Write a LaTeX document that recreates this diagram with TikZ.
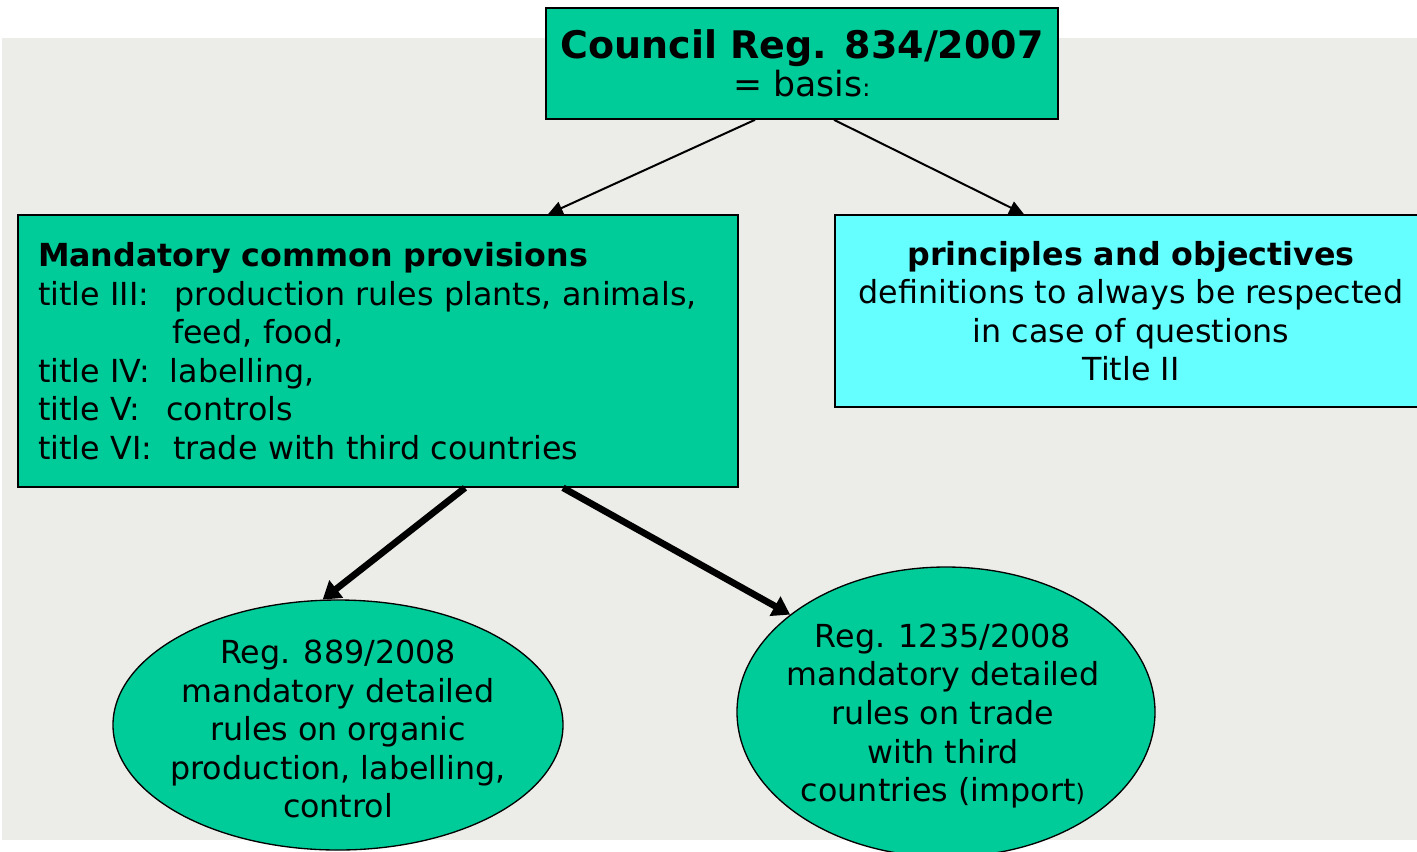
\documentclass[tikz,border=0pt]{standalone}
\usepackage{fontspec}
\setmainfont{DejaVu Sans}
\usetikzlibrary{arrows.meta,shapes.geometric}
\definecolor{regGreen}{RGB}{0,204,153}
\definecolor{regCyan}{RGB}{102,255,255}
\definecolor{slideGrey}{RGB}{236,236,232}
\begin{document}
\begin{tikzpicture}[x=0.75pt,y=-0.75pt,
 every node/.style={font=\fontsize{23.8}{28.9}\selectfont},
 box/.style={draw,line width=1.2pt,inner sep=0pt},
 oval/.style={ellipse,draw,line width=1pt,fill=regGreen,inner sep=0pt},
 link/.style={line width=1.5pt,-{Triangle[length=11pt,width=10pt]}},
 boldlink/.style={line width=5pt,-{Triangle[length=13pt,width=16pt]}}]
 \clip (0,0) rectangle (1417,851);
 \fill[slideGrey] (2,38) rectangle (1417,840);
 % boxes
 \node[box,fill=regGreen,minimum width=384pt,minimum height=83.25pt,align=center] (council) at (802,63.5)
  {{\fontsize{28.5}{31}\selectfont\bfseries Council Reg. 834/2007}\\[0pt]{\fontsize{26}{28}\selectfont = basis}{\fontsize{18}{18}\selectfont:}};
 \node[box,fill=regGreen,minimum width=540pt,minimum height=204pt,text width=510pt,inner xsep=15pt,align=left] (mandatory) at (378,351)
  {\textbf{Mandatory common provisions}\\
   title III:\hspace{19pt}production rules plants, animals,\\
   \phantom{title III:}\hspace{17pt}feed, food,\\
   title IV:\hspace{15pt}labelling,\\
   title V:\hspace{19.5pt}controls\\
   title VI:\hspace{15.5pt}trade with third countries};
 \node[box,fill=regCyan,minimum width=444pt,minimum height=144pt,align=center] (principles) at (1131,311)
  {\textbf{principles and objectives}\\definitions to always be respected\\in case of questions\\Title II};
 % ovals
 \node[oval,minimum width=337.5pt,minimum height=187.5pt] (reg889) at (338,725) {};
 \node[align=center] (reg889txt) at (338,729)
  {Reg. 889/2008\\mandatory detailed\\rules on organic\\production, labelling,\\control};
 \node[oval,minimum width=313.5pt,minimum height=217.5pt] (reg1235) at (946,712) {};
 \node[align=center] (reg1235txt) at (943,716)
  {Reg. 1235/2008\\mandatory detailed\\rules on trade\\with third\\countries (import{\fontsize{18}{18}\selectfont)}};
 % arrows
 \draw[link] ([xshift=-35.25pt]council.south) -- ([xshift=127.5pt]mandatory.north);
 \draw[link] ([xshift=24pt]council.south) -- ([xshift=-80.25pt]principles.north);
 \draw[boldlink] ([xshift=65.25pt]mandatory.south) -- (reg889.97);
 \draw[boldlink] ([xshift=138.75pt]mandatory.south) -- (reg1235.148);
\end{tikzpicture}
\end{document}
